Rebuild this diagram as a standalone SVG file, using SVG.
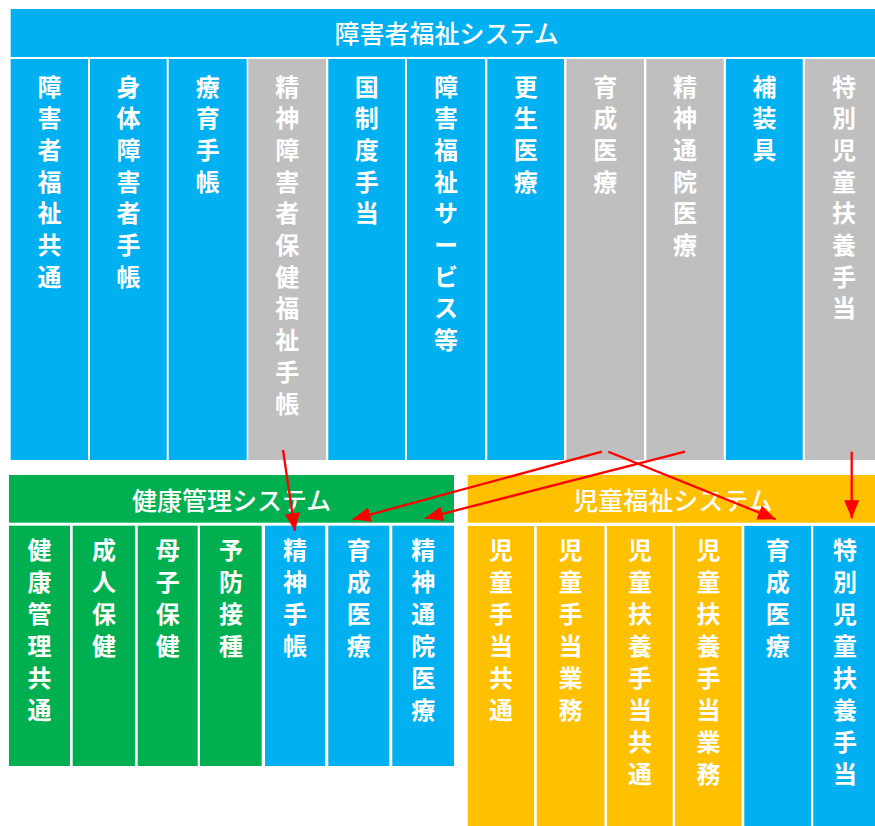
<svg xmlns="http://www.w3.org/2000/svg" width="875" height="826" viewBox="0 0 875 826">
<style>
.blue{fill:#00B0F0}
.gray{fill:#BFBFBF}
.green{fill:#00B050}
.orange{fill:#FFC000}
.h{fill:#FFFFFF;font-family:"Noto Sans CJK JP","Noto Sans CJK SC",sans-serif;font-size:25px;font-weight:500;text-anchor:middle}
.c{fill:#FFFFFF;font-family:"Noto Sans CJK JP","Noto Sans CJK SC",sans-serif;font-size:24px;font-weight:700;text-anchor:middle}
.arrow{stroke:#FF0000;stroke-width:2.3;fill:none;marker-end:url(#ah)}
</style>
<defs>
<marker id="ah" markerWidth="18" markerHeight="15" refX="18" refY="7.5" orient="auto" markerUnits="userSpaceOnUse">
<path d="M0,0 L18,7.5 L0,15 z" fill="#FF0000"/>
</marker>
</defs>
<rect width="875" height="826" fill="#FFFFFF"/>

<g id="welfare-system">
<rect class="blue" x="10.7" y="9" width="864.3" height="48"/>
<text class="h" x="446.7" y="43">障害者福祉システム</text>
</g>

<g id="w-col1"><rect class="blue" x="10.7" y="59" width="77.3" height="401"/>
<text class="c"><tspan x="49.4" y="95.5">障</tspan><tspan x="49.4" dy="31.7">害</tspan><tspan x="49.4" dy="31.7">者</tspan><tspan x="49.4" dy="31.7">福</tspan><tspan x="49.4" dy="31.7">祉</tspan><tspan x="49.4" dy="31.7">共</tspan><tspan x="49.4" dy="31.7">通</tspan></text></g>
<g id="w-col2"><rect class="blue" x="90" y="59" width="76.7" height="401"/>
<text class="c"><tspan x="128.4" y="95.5">身</tspan><tspan x="128.4" dy="31.7">体</tspan><tspan x="128.4" dy="31.7">障</tspan><tspan x="128.4" dy="31.7">害</tspan><tspan x="128.4" dy="31.7">者</tspan><tspan x="128.4" dy="31.7">手</tspan><tspan x="128.4" dy="31.7">帳</tspan></text></g>
<g id="w-col3"><rect class="blue" x="168.7" y="59" width="78" height="401"/>
<text class="c"><tspan x="207.7" y="95.5">療</tspan><tspan x="207.7" dy="31.7">育</tspan><tspan x="207.7" dy="31.7">手</tspan><tspan x="207.7" dy="31.7">帳</tspan></text></g>
<g id="w-col4"><rect class="gray" x="248.3" y="59" width="77.7" height="401"/>
<text class="c"><tspan x="287.2" y="95.5">精</tspan><tspan x="287.2" dy="31.7">神</tspan><tspan x="287.2" dy="31.7">障</tspan><tspan x="287.2" dy="31.7">害</tspan><tspan x="287.2" dy="31.7">者</tspan><tspan x="287.2" dy="31.7">保</tspan><tspan x="287.2" dy="31.7">健</tspan><tspan x="287.2" dy="31.7">福</tspan><tspan x="287.2" dy="31.7">祉</tspan><tspan x="287.2" dy="31.7">手</tspan><tspan x="287.2" dy="31.7">帳</tspan></text></g>
<g id="w-col5"><rect class="blue" x="328.3" y="59" width="76.7" height="401"/>
<text class="c"><tspan x="366.7" y="95.5">国</tspan><tspan x="366.7" dy="31.7">制</tspan><tspan x="366.7" dy="31.7">度</tspan><tspan x="366.7" dy="31.7">手</tspan><tspan x="366.7" dy="31.7">当</tspan></text></g>
<g id="w-col6"><rect class="blue" x="407" y="59" width="78" height="401"/>
<text class="c"><tspan x="446" y="95.5">障</tspan><tspan x="446" dy="31.7">害</tspan><tspan x="446" dy="31.7">福</tspan><tspan x="446" dy="31.7">祉</tspan><tspan x="446" dy="31.7">サ</tspan><tspan x="446" dy="31.7">ー</tspan><tspan x="446" dy="31.7">ビ</tspan><tspan x="446" dy="31.7">ス</tspan><tspan x="446" dy="31.7">等</tspan></text></g>
<g id="w-col7"><rect class="blue" x="487.3" y="59" width="76.7" height="401"/>
<text class="c"><tspan x="525.7" y="95.5">更</tspan><tspan x="525.7" dy="31.7">生</tspan><tspan x="525.7" dy="31.7">医</tspan><tspan x="525.7" dy="31.7">療</tspan></text></g>
<g id="w-col8"><rect class="gray" x="566.3" y="59" width="77.7" height="401"/>
<text class="c"><tspan x="605.2" y="95.5">育</tspan><tspan x="605.2" dy="31.7">成</tspan><tspan x="605.2" dy="31.7">医</tspan><tspan x="605.2" dy="31.7">療</tspan></text></g>
<g id="w-col9"><rect class="gray" x="646.3" y="59" width="77.4" height="401"/>
<text class="c"><tspan x="685" y="95.5">精</tspan><tspan x="685" dy="31.7">神</tspan><tspan x="685" dy="31.7">通</tspan><tspan x="685" dy="31.7">院</tspan><tspan x="685" dy="31.7">医</tspan><tspan x="685" dy="31.7">療</tspan></text></g>
<g id="w-col10"><rect class="blue" x="726" y="59" width="76.7" height="401"/>
<text class="c"><tspan x="764.4" y="95.5">補</tspan><tspan x="764.4" dy="31.7">装</tspan><tspan x="764.4" dy="31.7">具</tspan></text></g>
<g id="w-col11"><rect class="gray" x="805" y="59" width="70" height="401"/>
<text class="c"><tspan x="844" y="95.5">特</tspan><tspan x="844" dy="31.7">別</tspan><tspan x="844" dy="31.7">児</tspan><tspan x="844" dy="31.7">童</tspan><tspan x="844" dy="31.7">扶</tspan><tspan x="844" dy="31.7">養</tspan><tspan x="844" dy="31.7">手</tspan><tspan x="844" dy="31.7">当</tspan></text></g>

<g id="health-system">
<rect class="green" x="9" y="475" width="445" height="47.7"/>
<text class="h" x="231.7" y="509.5">健康管理システム</text>
</g>
<g id="h-col1"><rect class="green" x="9" y="525.7" width="61" height="240.3"/>
<text class="c"><tspan x="39.5" y="559">健</tspan><tspan x="39.5" dy="32">康</tspan><tspan x="39.5" dy="32">管</tspan><tspan x="39.5" dy="32">理</tspan><tspan x="39.5" dy="32">共</tspan><tspan x="39.5" dy="32">通</tspan></text></g>
<g id="h-col2"><rect class="green" x="72.7" y="525.7" width="62.3" height="240.3"/>
<text class="c"><tspan x="103.9" y="559">成</tspan><tspan x="103.9" dy="32">人</tspan><tspan x="103.9" dy="32">保</tspan><tspan x="103.9" dy="32">健</tspan></text></g>
<g id="h-col3"><rect class="green" x="137.7" y="525.7" width="60" height="240.3"/>
<text class="c"><tspan x="167.7" y="559">母</tspan><tspan x="167.7" dy="32">子</tspan><tspan x="167.7" dy="32">保</tspan><tspan x="167.7" dy="32">健</tspan></text></g>
<g id="h-col4"><rect class="green" x="200" y="525.7" width="61.7" height="240.3"/>
<text class="c"><tspan x="230.9" y="559">予</tspan><tspan x="230.9" dy="32">防</tspan><tspan x="230.9" dy="32">接</tspan><tspan x="230.9" dy="32">種</tspan></text></g>
<g id="h-col5"><rect class="blue" x="265" y="525.7" width="60" height="240.3"/>
<text class="c"><tspan x="295" y="559">精</tspan><tspan x="295" dy="32">神</tspan><tspan x="295" dy="32">手</tspan><tspan x="295" dy="32">帳</tspan></text></g>
<g id="h-col6"><rect class="blue" x="328.3" y="525.7" width="61" height="240.3"/>
<text class="c"><tspan x="358.8" y="559">育</tspan><tspan x="358.8" dy="32">成</tspan><tspan x="358.8" dy="32">医</tspan><tspan x="358.8" dy="32">療</tspan></text></g>
<g id="h-col7"><rect class="blue" x="392.3" y="525.7" width="61.7" height="240.3"/>
<text class="c"><tspan x="423.2" y="559">精</tspan><tspan x="423.2" dy="32">神</tspan><tspan x="423.2" dy="32">通</tspan><tspan x="423.2" dy="32">院</tspan><tspan x="423.2" dy="32">医</tspan><tspan x="423.2" dy="32">療</tspan></text></g>

<g id="child-system">
<rect class="orange" x="467.7" y="475" width="407.3" height="47.7"/>
<text class="h" x="673" y="509.5">児童福祉システム</text>
</g>
<g id="c-col1"><rect class="orange" x="467.7" y="526" width="66.3" height="300"/>
<text class="c"><tspan x="500.9" y="559">児</tspan><tspan x="500.9" dy="32">童</tspan><tspan x="500.9" dy="32">手</tspan><tspan x="500.9" dy="32">当</tspan><tspan x="500.9" dy="32">共</tspan><tspan x="500.9" dy="32">通</tspan></text></g>
<g id="c-col2"><rect class="orange" x="536.7" y="526" width="67.8" height="300"/>
<text class="c"><tspan x="570.6" y="559">児</tspan><tspan x="570.6" dy="32">童</tspan><tspan x="570.6" dy="32">手</tspan><tspan x="570.6" dy="32">当</tspan><tspan x="570.6" dy="32">業</tspan><tspan x="570.6" dy="32">務</tspan></text></g>
<g id="c-col3"><rect class="orange" x="607" y="526" width="65.7" height="300"/>
<text class="c"><tspan x="639.9" y="559">児</tspan><tspan x="639.9" dy="32">童</tspan><tspan x="639.9" dy="32">扶</tspan><tspan x="639.9" dy="32">養</tspan><tspan x="639.9" dy="32">手</tspan><tspan x="639.9" dy="32">当</tspan><tspan x="639.9" dy="32">共</tspan><tspan x="639.9" dy="32">通</tspan></text></g>
<g id="c-col4"><rect class="orange" x="675" y="526" width="66.7" height="300"/>
<text class="c"><tspan x="708.4" y="559">児</tspan><tspan x="708.4" dy="32">童</tspan><tspan x="708.4" dy="32">扶</tspan><tspan x="708.4" dy="32">養</tspan><tspan x="708.4" dy="32">手</tspan><tspan x="708.4" dy="32">当</tspan><tspan x="708.4" dy="32">業</tspan><tspan x="708.4" dy="32">務</tspan></text></g>
<g id="c-col5"><rect class="blue" x="744.3" y="526" width="66.7" height="300"/>
<text class="c"><tspan x="777.7" y="559">育</tspan><tspan x="777.7" dy="32">成</tspan><tspan x="777.7" dy="32">医</tspan><tspan x="777.7" dy="32">療</tspan></text></g>
<g id="c-col6"><rect class="blue" x="813.3" y="526" width="61.7" height="300"/>
<text class="c"><tspan x="845" y="559">特</tspan><tspan x="845" dy="32">別</tspan><tspan x="845" dy="32">児</tspan><tspan x="845" dy="32">童</tspan><tspan x="845" dy="32">扶</tspan><tspan x="845" dy="32">養</tspan><tspan x="845" dy="32">手</tspan><tspan x="845" dy="32">当</tspan></text></g>

<g id="connectors">
<line class="arrow" x1="283" y1="450" x2="295" y2="531"/>
<line class="arrow" x1="602" y1="451.7" x2="352.7" y2="519.3"/>
<line class="arrow" x1="685" y1="451.7" x2="425" y2="518.3"/>
<line class="arrow" x1="608.3" y1="451.7" x2="775.7" y2="519.3"/>
<line class="arrow" x1="851.7" y1="451.7" x2="851.7" y2="518.3"/>
</g>
</svg>
